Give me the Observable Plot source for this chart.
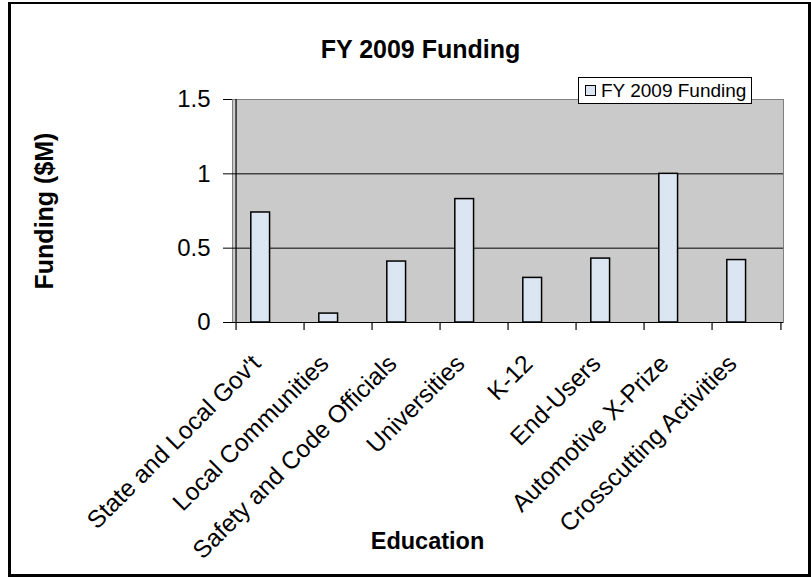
<!DOCTYPE html>
<html><head><meta charset="utf-8">
<script src="https://cdn.jsdelivr.net/npm/d3@7"></script>
<script src="https://cdn.jsdelivr.net/npm/@observablehq/plot@0.6"></script>
<style>
html,body{margin:0;padding:0;background:#fff;overflow:hidden}
#wrap{position:relative;width:811px;height:579px;overflow:hidden;font-family:"Liberation Sans",Arial,sans-serif}
#frame{position:absolute;left:8px;top:2px;width:803px;height:575px;border:3px solid #000;border-top-width:2px;box-sizing:border-box;pointer-events:none}
#legend{position:absolute;left:578px;top:77px;width:174px;height:27px;box-sizing:border-box;border:1px solid #000;background:#fff;font-size:19px;line-height:25px;white-space:nowrap;color:#000}
#legend .sw{display:inline-block;width:9px;height:9px;border:1px solid #000;background:#dce6f2;margin:0 5px 0 6px;vertical-align:1px}
svg{position:absolute;left:0;top:0}
</style>
</head><body>
<div id="wrap"><div id="frame"></div></div>
<script>
const title = "FY 2009 Funding";
const seriesName = "FY 2009 Funding";
const yLabel = "Funding ($M)";
const xLabel = "Education";
const categories = ["State and Local Gov't","Local Communities","Safety and Code Officials","Universities","K-12","End-Users","Automotive X-Prize","Crosscutting Activities"];
const funding = [0.74, 0.06, 0.41, 0.83, 0.30, 0.43, 1.0, 0.42];
const yTicks = [0, 0.5, 1, 1.5];
const gridValues = [0.5, 1];

const data = categories.map((c, i) => ({category: c, funding: funding[i]}));

const W = 811, H = 579, mL = 232, mR = 28, mT = 99, mB = 257;
const bw = (W - mL - mR) / categories.length;
const cx = mL + (W - mL - mR) / 2;

const chart = Plot.plot({
  width: W, height: H,
  marginLeft: mL, marginRight: mR, marginTop: mT, marginBottom: mB,
  style: {fontFamily: "'Liberation Sans', Arial, sans-serif", color: "#000", background: "transparent", overflow: "visible"},
  x: {type: "band", domain: categories, padding: 0, axis: null},
  y: {domain: [0, 1.5], axis: null},
  marks: [
    Plot.frame({fill: "#cacaca", stroke: "#808080"}),
    Plot.ruleY(gridValues, {stroke: "#000", strokeWidth: 1}),
    Plot.barY(data, {x: "category", y: "funding", fill: "#dce6f2", stroke: "#000", strokeWidth: 1.5,
      insetLeft: bw * 0.215, insetRight: bw * 0.5}),
    Plot.ruleY([0], {stroke: "#000", strokeWidth: 1.2}),
    Plot.ruleX([categories[0]], {x: d => d, y1: 0, y2: 1.5, dx: -bw / 2, stroke: "#000", strokeWidth: 1.2}),
    Plot.ruleX(categories, {x: d => d, y1: 0, y2: 0, insetBottom: -8, dx: -bw / 2, stroke: "#000", strokeWidth: 1.2}),
    Plot.ruleX([categories[categories.length - 1]], {x: d => d, y1: 0, y2: 0, insetBottom: -8, dx: bw / 2, stroke: "#000", strokeWidth: 1.2}),
    Plot.axisY({ticks: yTicks, tickSize: 9, tickPadding: 13, fontSize: 24, tickFormat: d => String(d), label: null, stroke: "#000"}),
    Plot.text(categories, {x: d => d, frameAnchor: "bottom", text: d => d, rotate: -45, textAnchor: "end", lineAnchor: "middle", fontSize: 24.5, dx: -14, dy: 37, fill: "#000"}),
    Plot.text([title], {frameAnchor: "top", text: d => d, fontSize: 25, fontWeight: "bold", textAnchor: "middle", lineAnchor: "middle", dx: 420 - cx, dy: -50, fill: "#000"}),
    Plot.text([yLabel], {frameAnchor: "left", text: d => d, fontSize: 25, fontWeight: "bold", rotate: -90, textAnchor: "middle", lineAnchor: "middle", dx: 44 - mL, fill: "#000"}),
    Plot.text([xLabel], {frameAnchor: "bottom", text: d => d, fontSize: 23.5, fontWeight: "bold", textAnchor: "middle", lineAnchor: "middle", dx: 427 - cx, dy: 219, fill: "#000"})
  ]
});
const wrap = document.getElementById("wrap");
wrap.insertBefore(chart, wrap.firstChild);
const leg = document.createElement("div");
leg.id = "legend";
leg.innerHTML = '<span class="sw"></span>' + seriesName;
wrap.appendChild(leg);
</script>
</body></html>
